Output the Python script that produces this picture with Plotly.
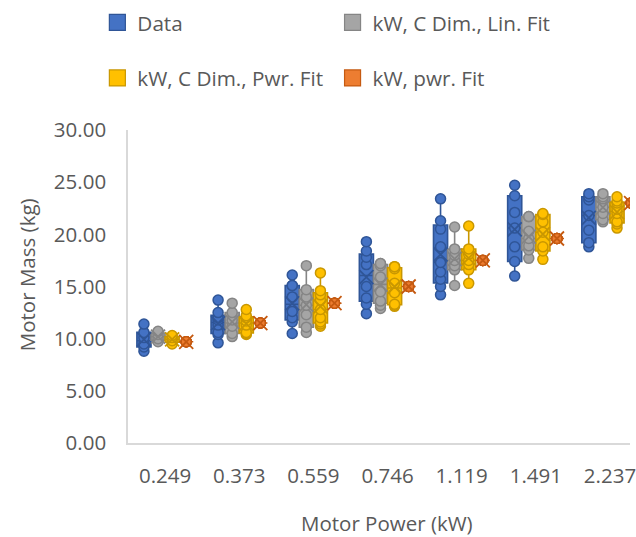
import numpy as np
import plotly.graph_objects as go

# Motor power classes (kW) shown along the x axis
categories = ["0.249", "0.373", "0.559", "0.746", "1.119", "1.491", "2.237"]

# Motor mass samples (kg) per power class, one list per series
data_mass = [
    [8.8, 9.2, 9.5, 10.1, 10.6, 11.4],
    [9.6, 10.4, 10.6, 11.3, 11.8, 12.0, 12.5, 13.7],
    [10.5, 11.6, 12.0, 12.6, 14.0, 15.1, 15.1, 16.1],
    [12.4, 13.3, 13.9, 15.0, 17.1, 17.8, 18.4, 19.3],
    [14.2, 15.0, 15.7, 16.4, 17.3, 18.8, 20.5, 21.3, 23.4],
    [16.0, 17.4, 18.8, 20.6, 22.1, 23.7, 24.7],
    [18.8, 19.2, 20.4, 21.8, 23.3, 23.6, 23.9],
]
lin_fit_mass = [
    [9.7, 10.0, 10.4, 10.7],
    [10.2, 10.5, 11.2, 11.8, 12.5, 13.4],
    [10.6, 11.1, 12.3, 13.2, 14.0, 14.7, 17.0],
    [12.9, 13.2, 13.6, 14.5, 15.9, 17.0, 17.2, 17.2],
    [15.1, 16.6, 17.0, 17.5, 18.0, 18.6, 20.7],
    [17.7, 18.5, 18.9, 19.6, 20.3, 21.7, 21.7],
    [21.2, 21.4, 22.0, 22.6, 23.4, 23.6, 23.9],
]
pwr_fit_mass = [
    [9.5, 9.8, 10.1, 10.3],
    [10.4, 10.5, 10.6, 11.3, 11.7, 12.0, 12.2, 12.8],
    [11.2, 11.4, 11.6, 12.0, 12.8, 13.7, 14.2, 14.6, 16.3],
    [13.1, 13.2, 13.3, 14.4, 15.3, 16.7, 16.9, 16.9],
    [15.3, 16.6, 17.1, 17.5, 18.1, 18.6, 20.8],
    [17.6, 18.4, 18.8, 20.2, 21.2, 21.9, 22.0],
    [20.6, 21.0, 21.2, 22.0, 22.4, 23.0, 23.2, 23.6],
]
kw_pwr_fit_mass = [
    [9.7] * 6,
    [11.5] * 6,
    [13.4] * 6,
    [15.0] * 6,
    [17.5] * 6,
    [19.6] * 6,
    [23.0] * 6,
]

series_names = ["Data", "kW, C Dim., Lin. Fit", "kW, C Dim., Pwr. Fit", "kW, pwr. Fit"]
series_values = [data_mass, lin_fit_mass, pwr_fit_mass, kw_pwr_fit_mass]
fill_colors = ["#4472C4", "#A5A5A5", "#FFC000", "#ED7D31"]
edge_colors = ["#2F5597", "#858585", "#C99700", "#C55A11"]

BOX_W = 0.19
TEXT = "#595959"
FONT = "Open Sans, Segoe UI, sans-serif"

fig = go.Figure()

for k, (name, values) in enumerate(zip(series_names, series_values)):
    offset = (k - 1.5) * BOX_W
    xs, ys, mean_x, mean_y = [], [], [], []
    for i, vals in enumerate(values):
        xs += [i + offset] * len(vals)
        ys += vals
        mean_x.append(i + offset)
        mean_y.append(float(np.mean(vals)))
    fig.add_trace(go.Box(
        x=xs, y=ys, name=name, width=BOX_W,
        quartilemethod="exclusive",
        boxpoints="all", jitter=0, pointpos=0,
        whiskerwidth=0.45,
        fillcolor=fill_colors[k],
        line=dict(color=edge_colors[k], width=1.6),
        marker=dict(size=10, color=fill_colors[k],
                    line=dict(color=edge_colors[k], width=1.5)),
        showlegend=False,
    ))
    # mean marker drawn as an X across the box
    fig.add_trace(go.Scatter(
        x=mean_x, y=mean_y, mode="markers", showlegend=False,
        marker=dict(symbol="x-thin", size=14,
                    line=dict(color=edge_colors[k], width=1.8)),
    ))

# legend entries: two rows of two, each placed in its own legend box
legend_slots = [(97, 22.5), (335, 22.5), (97, 78), (335, 78)]
PLOT_L, PLOT_R, PLOT_T, PLOT_B = 128, 636, 130, 443
legend_layouts = {}
for k, name in enumerate(series_names):
    key = "legend" if k == 0 else f"legend{k + 1}"
    fig.add_trace(go.Scatter(
        x=[None], y=[None], mode="markers", name=name, legend=key,
        marker=dict(symbol="square", size=16, color=fill_colors[k],
                    line=dict(color=edge_colors[k], width=1.2)),
    ))
    px, py = legend_slots[k]
    legend_layouts[key] = dict(
        x=(px - PLOT_L) / (PLOT_R - PLOT_L),
        y=(PLOT_B - py) / (PLOT_B - PLOT_T),
        xanchor="left", yanchor="middle",
        bgcolor="rgba(0,0,0,0)", borderwidth=0,
        font=dict(family=FONT, size=20.7, color=TEXT),
    )

fig.update_layout(
    width=636, height=537,
    margin=dict(l=PLOT_L, r=0, t=PLOT_T, b=537 - PLOT_B, pad=0),
    paper_bgcolor="white", plot_bgcolor="white",
    font=dict(family=FONT, size=20, color=TEXT),
    **legend_layouts,
    xaxis=dict(
        range=[-0.5, 6.27], tickvals=list(range(len(categories))),
        ticktext=categories, showgrid=False, zeroline=False,
        showline=True, linecolor="#D9D9D9", linewidth=1.5,
        ticks="", ticklabelstandoff=14, ticklabeloverflow="allow",
        tickfont=dict(family=FONT, size=20.5, color=TEXT),
    ),
    yaxis=dict(
        range=[0, 30], dtick=5, tickformat=".2f",
        showgrid=False, zeroline=False,
        showline=True, linecolor="#D9D9D9", linewidth=1.5,
        ticks="", ticklabelstandoff=16,
        tickfont=dict(family=FONT, size=20.5, color=TEXT),
    ),
    annotations=[
        dict(text="Motor Power (kW)", xref="paper", yref="paper",
             x=(390 - PLOT_L) / (PLOT_R - PLOT_L),
             y=(PLOT_B - 523) / (PLOT_B - PLOT_T),
             xanchor="center", yanchor="middle", showarrow=False,
             font=dict(family=FONT, size=20.5, color=TEXT)),
        dict(text="Motor Mass (kg)", xref="paper", yref="paper",
             x=(26 - PLOT_L) / (PLOT_R - PLOT_L),
             y=(PLOT_B - 275) / (PLOT_B - PLOT_T),
             xanchor="center", yanchor="middle", textangle=-90,
             showarrow=False,
             font=dict(family=FONT, size=20.5, color=TEXT)),
    ],
)

fig.write_html("out.html")
